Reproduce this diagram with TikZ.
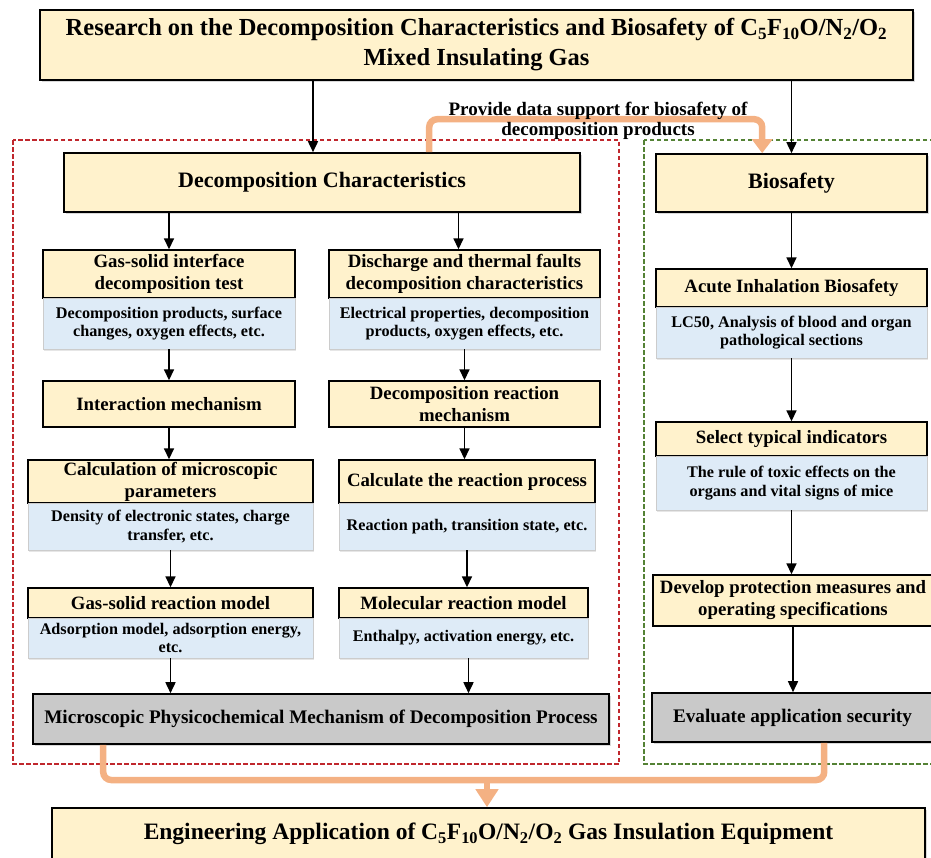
\documentclass[tikz,border=0pt]{standalone}
\usepackage{fontspec}
\setmainfont{Liberation Serif}
\usetikzlibrary{arrows.meta}
\usetikzlibrary{calc}
\usetikzlibrary{shadows}
\usetikzlibrary{positioning}

\definecolor{boxyellow}{HTML}{FFF2CC}
\definecolor{boxblue}{HTML}{DEEBF7}
\definecolor{boxgray}{HTML}{C9C9C9}
\definecolor{linkorange}{HTML}{F4B183}
\definecolor{framered}{HTML}{C0272D}
\definecolor{framegreen}{HTML}{548235}

\newcommand{\gasmix}{C\textsubscript{5}F\textsubscript{10}O/N\textsubscript{2}/O\textsubscript{2}}

\begin{document}
\begin{tikzpicture}[x=1pt, y=-1pt,
every node/.style={align=center, inner sep=0pt},
topbox/.style={draw, line width=1.6pt, fill=boxyellow,
  drop shadow={shadow xshift=1.5pt, shadow yshift=-2pt, opacity=.3},
  font=\fontsize{22}{26}\selectfont\bfseries},
head/.style={draw, line width=1.4pt, fill=boxyellow,
  font=\fontsize{18.8}{22}\selectfont\bfseries},
body/.style={draw=black!20, line width=0.8pt, fill=boxblue,
  drop shadow={shadow xshift=1pt, shadow yshift=-1.5pt, opacity=.2},
  font=\fontsize{16.2}{18.5}\selectfont\bfseries},
endbox/.style={draw, line width=1.6pt, fill=boxgray,
  drop shadow={shadow xshift=1.5pt, shadow yshift=-2pt, opacity=.3},
  font=\fontsize{19.2}{22}\selectfont\bfseries},
arr/.style={line width=1.6pt, -{Triangle[length=11pt, width=10pt]}},
link/.style={draw=linkorange, line width=6.5pt, rounded corners=8pt},
frame/.style={line width=2.8pt, dash pattern=on 4.5pt off 2.5pt}]
\useasboundingbox (0,0) rectangle (931,857);

% dashed frames
\draw[frame, framered] (13,140) rectangle (619,764);
\draw[frame, framegreen] (644,140) rectangle (935,764);

% top and bottom
\node[topbox, minimum width=873, minimum height=70, font=\fontsize{24.5}{30}\selectfont\bfseries] (title) at (476.5,45)
  {Research on the Decomposition Characteristics and Biosafety of \gasmix\\Mixed Insulating Gas};
\node[topbox, minimum width=873, minimum height=52, font=\fontsize{23.5}{26}\selectfont\bfseries] (eng) at (488.5,834)
  {Engineering Application of \gasmix{} Gas Insulation Equipment};

\node[topbox, minimum width=516, minimum height=59] (decomp) at (322,182.5) {Decomposition Characteristics};
\node[topbox, minimum width=271, minimum height=58] (bio) at (791.5,183) {Biosafety};

% decomposition side
\node[head, minimum width=252, minimum height=48] (gsi) at (169,274) {Gas-solid interface\\decomposition test};
\node[body, minimum width=252, minimum height=51] (gsib) at (169,323.5) {Decomposition products, surface\\changes, oxygen effects, etc.};
\node[head, minimum width=271, minimum height=48] (dtf) at (464.5,274) {Discharge and thermal faults\\decomposition characteristics};
\node[body, minimum width=271, minimum height=51] (dtfb) at (464.5,323.5) {Electrical properties, decomposition\\products, oxygen effects, etc.};

\node[head, minimum width=252, minimum height=46] (im) at (169,404) {Interaction mechanism};
\node[head, minimum width=271, minimum height=46] (drm) at (464.5,404) {Decomposition reaction\\mechanism};

\node[head, minimum width=285, minimum height=43] (cmp) at (170.5,481.5) {Calculation of microscopic\\parameters};
\node[body, minimum width=285, minimum height=47] (cmpb) at (170.5,526.5) {Density of electronic states, charge\\transfer, etc.};
\node[head, minimum width=256, minimum height=43] (crp) at (467,481.5) {Calculate the reaction process};
\node[body, minimum width=256, minimum height=47] (crpb) at (467,526.5) {Reaction path, transition state, etc.};

\node[head, minimum width=285, minimum height=30] (gsr) at (170.5,603) {Gas-solid reaction model};
\node[body, minimum width=285, minimum height=40] (gsrb) at (170.5,638) {Adsorption model, adsorption energy,\\etc.};
\node[head, minimum width=249, minimum height=30] (mrm) at (463.5,603) {Molecular reaction model};
\node[body, minimum width=249, minimum height=40] (mrmb) at (463.5,638) {Enthalpy, activation energy, etc.};

\node[endbox, minimum width=576, minimum height=50] (mpm) at (321,719)
  {Microscopic Physicochemical Mechanism of Decomposition Process};

% biosafety side
\node[head, minimum width=271, minimum height=38] (aib) at (791.5,288) {Acute Inhalation Biosafety};
\node[body, minimum width=271, minimum height=51] (aibb) at (791.5,332.5) {LC50, Analysis of blood and organ\\pathological sections};
\node[head, minimum width=271, minimum height=34] (sti) at (791.5,439) {Select typical indicators};
\node[body, minimum width=271, minimum height=54] (stib) at (791.5,483) {The rule of toxic effects on the\\organs and vital signs of mice};
\node[head, minimum width=280, minimum height=51] (dpm) at (793,600.5) {Develop protection measures and\\operating specifications};
\node[endbox, minimum width=281, minimum height=49] (eas) at (792.5,717.5) {Evaluate application security};

% black arrows
\draw[arr] ($(title.south -| decomp.north)+(-9,0)$) -- ($(decomp.north)+(-9,0)$);
\draw[arr] (title.south -| bio.north) -- (bio.north);
\draw[arr] (decomp.south -| gsi.north) -- (gsi.north);
\draw[arr] ($(decomp.south -| dtf.north)+(-6,0)$) -- ($(dtf.north)+(-6,0)$);
\draw[arr] (gsib.south) -- (im.north);
\draw[arr] (dtfb.south) -- (drm.north);
\draw[arr] (im.south) -- (im.south |- cmp.north);
\draw[arr] (drm.south) -- (drm.south |- crp.north);
\draw[arr] (cmpb.south) -- (gsr.north);
\draw[arr] (crpb.south) -- (crpb.south |- mrm.north);
\draw[arr] (gsrb.south) -- (gsrb.south |- mpm.north);
\draw[arr] ($(mrmb.south)+(5,0)$) -- ($(mrmb.south |- mpm.north)+(5,0)$);
\draw[arr] (bio.south) -- (aib.north);
\draw[arr] (aibb.south) -- (sti.north);
\draw[arr] (stib.south) -- (stib.south |- dpm.north);
\draw[arr] (dpm.south) -- (dpm.south |- eas.north);

% orange links
\draw[link, -{Triangle[length=14pt, width=20pt]}] ($(decomp.north west)+(366,0)$) -- ++(0,-33)
  -| ($(bio.north west)+(107,0)$);
\node[font=\fontsize{19}{20}\selectfont\bfseries] (note) at (598,121)
  {Provide data support for biosafety of\\decomposition products};
\coordinate (joint) at (487,780);
\draw[link] ($(mpm.south west)+(71,0)$) |- (joint) -| ($(eas.south west)+(173,0)$);
\draw[link, -{Triangle[length=18pt, width=22pt]}] (joint) -- (eng.north -| joint);
\end{tikzpicture}
\end{document}
